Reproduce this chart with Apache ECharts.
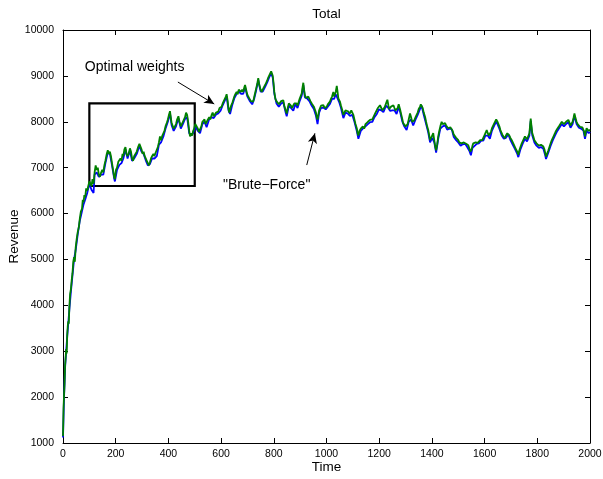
<!DOCTYPE html>
<html><head><meta charset="utf-8">
<script src="https://cdn.jsdelivr.net/npm/echarts@6/dist/echarts.min.js"></script>
<style>html,body{margin:0;padding:0;background:#fff}#c{width:603px;height:479px}</style>
</head><body><div id="c"></div>
<script>
const titleText = "Total";
const xName = "Time";
const yName = "Revenue";
const xTicks = [0,200,400,600,800,1000,1200,1400,1600,1800,2000];
const yTicks = [1000,2000,3000,4000,5000,6000,7000,8000,9000,10000];
const labelOptimal = "Optimal weights";
const labelBrute = "\"Brute\u2212Force\"";

// "Optimal weights" series (green) [time, revenue]
const greenSeries = [[0,1150],[2,1750],[4,2050],[6,2300],[8,2700],[10,2850],[12,3050],[14,2950],[16,3350],[18,3550],[20,3650],[22,3600],[24,3950],[27,4250],[30,4350],[33,4550],[36,4700],[39,4950],[42,5050],[45,4950],[48,5250],[52,5450],[56,5600],[60,5700],[64,5900],[68,6050],[72,6100],[75,6300],[78,6250],[81,6400],[84,6350],[88,6550],[92,6500],[96,6600],[100,6700],[104,6650],[108,6600],[112,6750],[116,6650],[120,6900],[124,7050],[128,6950],[132,7000],[136,6850],[140,6800],[145,6900],[149,6950],[153,6900],[157,7050],[161,7150],[166,7300],[170,7380],[174,7300],[178,7350],[182,7250],[186,7100],[190,6950],[194,6800],[197,6750],[201,6950],[205,7000],[210,7130],[214,7100],[218,7200],[222,7150],[226,7300],[229,7250],[233,7400],[237,7450],[241,7300],[245,7250],[249,7300],[254,7420],[258,7350],[262,7200],[266,7150],[270,7250],[275,7300],[280,7350],[285,7450],[290,7520],[294,7480],[298,7400],[302,7300],[306,7350],[310,7250],[314,7200],[318,7150],[322,7100],[326,7050],[330,7120],[334,7200],[338,7250],[343,7300],[347,7250],[351,7320],[356,7300],[360,7450],[364,7550],[368,7680],[372,7600],[377,7700],[381,7720],[385,7800],[389,7900],[394,7980],[398,8050],[402,8150],[406,8230],[409,8100],[412,7980],[416,7950],[420,7850],[425,7820],[429,7950],[433,8050],[438,8120],[442,8000],[447,7900],[451,7950],[455,8000],[459,7980],[463,8100],[467,8200],[471,8150],[475,8000],[479,7800],[482,7680],[486,7750],[490,7700],[494,7800],[498,7850],[502,7950],[507,7950],[512,7850],[516,7780],[520,7800],[525,7900],[529,8000],[533,7980],[537,8050],[541,7950],[545,7930],[550,8050],[555,8100],[559,8050],[564,8150],[568,8200],[572,8120],[577,8110],[581,8200],[585,8180],[589,8220],[594,8300],[598,8280],[602,8330],[606,8400],[610,8450],[614,8500],[618,8550],[621,8600],[625,8450],[628,8300],[631,8200],[634,8220],[638,8350],[642,8400],[646,8420],[650,8550],[654,8600],[659,8650],[663,8600],[667,8700],[672,8730],[676,8650],[680,8700],[684,8650],[688,8750],[691,8800],[695,8700],[699,8600],[703,8550],[708,8500],[713,8450],[718,8420],[722,8440],[726,8550],[730,8650],[734,8750],[738,8850],[741,8950],[745,8800],[750,8700],[754,8650],[758,8700],[762,8750],[767,8800],[771,8850],[775,8900],[778,8950],[782,9000],[786,9050],[790,9100],[793,9120],[796,9000],[799,8850],[802,8650],[806,8500],[810,8450],[815,8420],[819,8380],[823,8400],[828,8450],[832,8420],[836,8470],[840,8350],[845,8250],[849,8180],[853,8300],[857,8400],[861,8440],[865,8350],[869,8300],[874,8290],[878,8400],[882,8440],[886,8400],[890,8350],[894,8370],[898,8500],[902,8560],[906,8620],[909,8750],[912,8850],[915,8700],[918,8580],[922,8520],[926,8560],[931,8550],[935,8500],[939,8450],[944,8400],[948,8380],[952,8330],[956,8290],[960,8200],[963,8100],[966,8050],[969,8150],[972,8250],[975,8290],[979,8350],[984,8320],[988,8360],[993,8300],[997,8320],[1001,8330],[1005,8380],[1009,8420],[1013,8440],[1017,8500],[1021,8550],[1026,8650],[1029,8550],[1032,8510],[1035,8650],[1039,8780],[1042,8650],[1045,8510],[1048,8480],[1051,8440],[1055,8350],[1060,8250],[1064,8150],[1068,8200],[1072,8250],[1077,8290],[1081,8230],[1085,8200],[1089,8180],[1094,8250],[1098,8200],[1102,8150],[1106,8050],[1110,7950],[1115,7860],[1118,7750],[1121,7700],[1125,7800],[1130,7850],[1134,7860],[1138,7900],[1143,7850],[1148,7950],[1153,7930],[1157,8000],[1161,7980],[1165,8040],[1170,8000],[1174,8050],[1178,8070],[1182,8150],[1186,8200],[1191,8220],[1195,8300],[1199,8320],[1203,8360],[1208,8300],[1212,8250],[1216,8260],[1221,8320],[1226,8400],[1231,8480],[1235,8350],[1238,8280],[1241,8290],[1245,8330],[1250,8300],[1254,8360],[1258,8300],[1262,8250],[1266,8220],[1270,8300],[1274,8380],[1277,8420],[1280,8250],[1284,8150],[1288,8050],[1291,7970],[1295,7950],[1300,7900],[1304,7880],[1308,7950],[1312,8050],[1317,8180],[1321,8100],[1325,8000],[1329,7970],[1333,8030],[1338,8100],[1342,8150],[1346,8200],[1350,8280],[1355,8330],[1358,8380],[1361,8400],[1365,8300],[1369,8200],[1374,8110],[1378,8000],[1382,7900],[1386,7820],[1390,7700],[1393,7600],[1397,7650],[1401,7700],[1405,7750],[1409,7600],[1413,7450],[1416,7380],[1420,7500],[1424,7680],[1428,7800],[1432,7900],[1437,8000],[1441,7950],[1445,7980],[1450,7970],[1454,7920],[1458,7880],[1462,7860],[1466,7900],[1470,7880],[1475,7890],[1479,7800],[1483,7720],[1488,7680],[1492,7650],[1496,7620],[1500,7600],[1504,7550],[1509,7530],[1513,7530],[1517,7560],[1521,7550],[1526,7570],[1530,7520],[1534,7500],[1538,7490],[1542,7420],[1546,7350],[1548,7310],[1551,7400],[1554,7480],[1557,7530],[1561,7500],[1566,7550],[1570,7570],[1574,7540],[1578,7580],[1583,7600],[1587,7640],[1591,7600],[1595,7640],[1599,7700],[1603,7750],[1608,7820],[1612,7750],[1616,7700],[1620,7680],[1624,7780],[1628,7860],[1633,7880],[1637,7970],[1641,7950],[1644,8050],[1646,8070],[1649,8000],[1652,7970],[1656,7900],[1660,7820],[1665,7750],[1669,7700],[1673,7680],[1677,7640],[1681,7700],[1686,7750],[1690,7780],[1694,7700],[1698,7650],[1703,7600],[1707,7550],[1711,7500],[1715,7460],[1719,7400],[1724,7350],[1728,7280],[1732,7380],[1736,7450],[1741,7530],[1745,7580],[1749,7620],[1753,7680],[1757,7650],[1761,7620],[1766,7600],[1770,7750],[1773,7950],[1775,8070],[1778,7900],[1781,7750],[1785,7680],[1789,7600],[1793,7560],[1797,7530],[1801,7500],[1806,7480],[1810,7460],[1814,7500],[1818,7480],[1823,7460],[1827,7400],[1830,7320],[1833,7240],[1837,7300],[1842,7380],[1846,7450],[1850,7520],[1855,7600],[1859,7650],[1863,7700],[1867,7750],[1871,7800],[1876,7850],[1880,7890],[1884,7920],[1889,7950],[1893,8000],[1897,7980],[1901,7950],[1905,7970],[1909,8000],[1914,8020],[1918,8040],[1922,7980],[1926,7920],[1931,7890],[1934,8000],[1938,8100],[1941,8180],[1945,8080],[1949,8000],[1953,7950],[1958,7920],[1962,7890],[1966,7900],[1971,7880],[1975,7860],[1978,7780],[1981,7680],[1984,7780],[1987,7860],[1991,7850],[1995,7800],[2000,7830]];

// "Brute-Force" series (blue) [time, revenue]
const blueSeries = [[0,1120],[4,2000],[8,2650],[12,3000],[16,3320],[20,3600],[24,3900],[30,4300],[36,4650],[42,5000],[48,5200],[56,5550],[64,5850],[72,6050],[78,6200],[84,6300],[92,6450],[100,6650],[108,6520],[116,6450],[120,6850],[128,6900],[136,6800],[145,6850],[153,6850],[161,7100],[170,7330],[178,7300],[186,7050],[194,6770],[197,6700],[205,6950],[214,7060],[222,7100],[229,7200],[237,7400],[245,7200],[254,7380],[262,7150],[270,7200],[280,7300],[290,7480],[298,7350],[306,7300],[314,7160],[322,7050],[330,7080],[338,7200],[347,7200],[356,7250],[364,7500],[372,7550],[381,7680],[389,7850],[398,8000],[406,8190],[412,7930],[420,7800],[429,7900],[438,8080],[447,7850],[455,7950],[463,8060],[471,8100],[479,7750],[486,7700],[494,7750],[502,7900],[512,7800],[520,7750],[529,7950],[537,8000],[545,7880],[555,8060],[564,8100],[572,8080],[581,8160],[589,8180],[598,8240],[606,8360],[614,8460],[621,8560],[628,8250],[634,8170],[642,8360],[650,8510],[659,8610],[667,8660],[676,8610],[684,8610],[691,8760],[699,8560],[708,8460],[718,8380],[726,8510],[734,8710],[741,8910],[750,8660],[758,8660],[767,8760],[775,8860],[782,8960],[790,9060],[796,8960],[802,8610],[810,8400],[819,8330],[828,8400],[836,8420],[845,8200],[849,8120],[857,8350],[865,8300],[874,8240],[882,8390],[890,8300],[898,8450],[906,8570],[912,8800],[918,8530],[926,8510],[935,8450],[944,8350],[952,8280],[960,8130],[966,7950],[972,8200],[979,8300],[988,8310],[997,8270],[1005,8330],[1013,8390],[1021,8500],[1029,8500],[1035,8600],[1042,8600],[1048,8430],[1055,8300],[1064,8080],[1072,8200],[1081,8180],[1089,8130],[1098,8150],[1106,8000],[1115,7800],[1121,7630],[1130,7800],[1138,7850],[1148,7900],[1157,7950],[1165,7990],[1174,8000],[1182,8100],[1191,8170],[1199,8270],[1208,8250],[1216,8210],[1226,8350],[1235,8300],[1241,8240],[1250,8250],[1258,8250],[1266,8170],[1274,8330],[1280,8200],[1288,8000],[1295,7900],[1304,7820],[1312,8000],[1321,8050],[1329,7920],[1338,8050],[1346,8150],[1355,8280],[1361,8350],[1369,8150],[1378,7950],[1386,7770],[1393,7550],[1401,7650],[1409,7550],[1416,7330],[1424,7630],[1432,7850],[1441,7900],[1450,7920],[1458,7830],[1466,7850],[1475,7840],[1483,7670],[1492,7600],[1500,7550],[1509,7480],[1517,7510],[1526,7520],[1534,7450],[1542,7370],[1548,7270],[1554,7430],[1561,7450],[1570,7520],[1578,7530],[1587,7590],[1595,7590],[1603,7700],[1612,7700],[1620,7630],[1628,7810],[1637,7920],[1644,8000],[1649,7950],[1656,7850],[1665,7700],[1673,7630],[1681,7650],[1690,7730],[1698,7600],[1707,7500],[1715,7410],[1724,7300],[1728,7230],[1736,7400],[1745,7530],[1753,7630],[1761,7570],[1770,7700],[1775,8020],[1781,7700],[1789,7550],[1797,7480],[1806,7430],[1814,7450],[1823,7410],[1830,7270],[1833,7190],[1842,7330],[1850,7470],[1859,7600],[1867,7700],[1876,7800],[1884,7870],[1893,7950],[1901,7900],[1909,7950],[1918,7990],[1926,7870],[1934,7950],[1941,8130],[1949,7950],[1958,7870],[1966,7850],[1975,7810],[1981,7630],[1987,7810],[1995,7750],[2000,7780]];

const FONT = "'Liberation Sans', Arial, Helvetica, sans-serif";
const xMin = xTicks[0], xMax = xTicks[xTicks.length-1], xStep = xTicks[1]-xTicks[0];
const yMin = yTicks[0], yMax = yTicks[yTicks.length-1], yStep = yTicks[1]-yTicks[0];

function axisBase(pos, showLabel, margin){
  return {
    type:'value', position:pos, splitLine:{show:false},
    axisLine:{show:true, onZero:false, lineStyle:{color:'#000', width:1}},
    axisTick:{show:true, inside:true, length:5, lineStyle:{color:'#000'}},
    axisLabel:{show:showLabel, color:'#000', fontSize:10.5, fontFamily:FONT, margin:margin||6,
      formatter:function(v){ return String(v); }}
  };
}

const chart = echarts.init(document.getElementById('c'), null, {renderer:'canvas'});
const xA = axisBase('bottom', true, 6);
Object.assign(xA, {min:xMin, max:xMax, interval:xStep});
const xB = axisBase('top', false);
Object.assign(xB, {min:xMin, max:xMax, interval:xStep});
const yA = axisBase('left', true, 9);
Object.assign(yA, {min:yMin, max:yMax, interval:yStep});
const yB = axisBase('right', false);
Object.assign(yB, {min:yMin, max:yMax, interval:yStep});

chart.setOption({
  animation:false,
  backgroundColor:'#fff',
  grid:{left:63, right:13, top:30, bottom:36, containLabel:false, outerBoundsMode:'none'},
  xAxis:[xA, xB],
  yAxis:[yA, yB],
  series:[
    {type:'line', name:'Brute-Force', data:blueSeries, showSymbol:false, symbol:'none',
      lineStyle:{color:'#0000ff', width:1.8}, z:2},
    {type:'line', name:'Optimal weights', data:greenSeries, showSymbol:false, symbol:'none',
      lineStyle:{color:'#008000', width:1.8}, z:3,
      markArea:{silent:true, itemStyle:{color:'rgba(0,0,0,0)', borderColor:'#000', borderWidth:2.2},
        data:[[{coord:[100,8400]},{coord:[500,6600]}]]},
      markLine:{silent:true, symbol:['none','arrow'], symbolSize:[7,10], label:{show:false},
        lineStyle:{color:'#000', width:1, type:'solid'},
        data:[
          [{coord:[436,8866]},{coord:[574,8387]}],
          [{coord:[925,7057]},{coord:[956,7748]}]
        ]}
    }
  ]
});

function px(p){ return chart.convertToPixel({gridIndex:0}, p); }
const tPos = px([(xMin+xMax)/2, yMax]);
const bl = px([xMin, yMin]);
const mid = px([(xMin+xMax)/2, (yMin+yMax)/2]);
const oPos = px([83, 9190]);
const bPos = px([773, 6622]);
chart.setOption({
  graphic:[
    {type:'text', x:tPos[0], y:14, style:{text:titleText, fill:'#000', font:'13.5px '+FONT, textAlign:'center', textVerticalAlign:'middle'}},
    {type:'text', x:mid[0], y:bl[1]+24, style:{text:xName, fill:'#000', font:'13.5px '+FONT, textAlign:'center', textVerticalAlign:'middle'}},
    {type:'text', x:bl[0]-48.5, y:mid[1], rotation:Math.PI/2, style:{text:yName, fill:'#000', font:'13.5px '+FONT, textAlign:'center', textVerticalAlign:'middle'}},
    {type:'text', x:oPos[0], y:oPos[1], style:{text:labelOptimal, fill:'#000', font:'14px '+FONT, textAlign:'left', textVerticalAlign:'middle'}},
    {type:'text', x:bPos[0], y:bPos[1], style:{text:labelBrute, fill:'#000', font:'14px '+FONT, textAlign:'center', textVerticalAlign:'middle'}}
  ]
});
</script></body></html>
